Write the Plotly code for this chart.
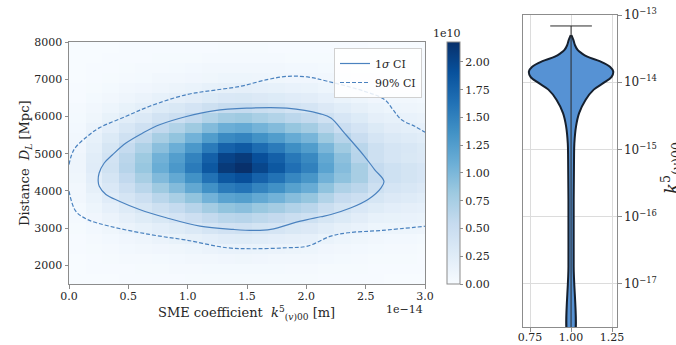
import plotly.graph_objects as go

# ---------------- data ----------------
# 2D histogram bin centres (x in units of 1e-14 m, y in Mpc)
x_centers = [0.07, 0.21, 0.35, 0.49, 0.63, 0.77, 0.91, 1.05, 1.19, 1.33, 1.47,
             1.61, 1.75, 1.89, 2.03, 2.17, 2.31, 2.45, 2.59, 2.73, 2.87, 3.01]
y_centers = [1635, 1905, 2175, 2445, 2715, 2985, 3255, 3525, 3795, 4065, 4335, 4605,
             4875, 5145, 5415, 5685, 5955, 6225, 6495, 6765, 7035, 7305, 7575, 7845]
# density, units of 1e9 (rows bottom -> top)
density_1e9 = [
    [0.0, 0.0, 0.0, 0.1, 0.1, 0.1, 0.1, 0.2, 0.2, 0.2, 0.2, 0.2, 0.2, 0.2, 0.2, 0.1, 0.1, 0.1, 0.1, 0.0, 0.0, 0.0],
    [0.0, 0.1, 0.1, 0.1, 0.2, 0.2, 0.3, 0.3, 0.4, 0.4, 0.4, 0.4, 0.4, 0.3, 0.3, 0.2, 0.2, 0.2, 0.1, 0.1, 0.1, 0.1],
    [0.0, 0.1, 0.2, 0.3, 0.3, 0.4, 0.5, 0.6, 0.7, 0.8, 0.9, 0.8, 0.7, 0.7, 0.6, 0.5, 0.4, 0.3, 0.2, 0.2, 0.2, 0.1],
    [0.1, 0.2, 0.3, 0.5, 0.6, 0.8, 0.9, 1.1, 1.3, 1.5, 1.5, 1.4, 1.3, 1.2, 1.1, 0.8, 0.7, 0.5, 0.4, 0.3, 0.3, 0.2],
    [0.1, 0.3, 0.5, 0.8, 1.0, 1.3, 1.6, 1.9, 2.2, 2.5, 2.6, 2.4, 2.2, 2.0, 1.8, 1.4, 1.1, 0.9, 0.7, 0.5, 0.5, 0.4],
    [0.2, 0.5, 0.9, 1.3, 1.7, 2.2, 2.6, 3.1, 3.7, 4.2, 4.4, 4.0, 3.7, 3.3, 3.0, 2.4, 1.9, 1.5, 1.1, 1.1, 1.1, 1.0],
    [0.3, 0.8, 1.3, 2.0, 2.6, 3.3, 3.9, 4.7, 5.6, 6.3, 6.5, 6.0, 5.6, 5.0, 4.5, 3.6, 2.9, 2.3, 1.7, 1.6, 1.5, 1.4],
    [0.4, 1.1, 1.8, 2.7, 3.6, 4.6, 5.5, 6.5, 7.8, 8.8, 9.2, 8.4, 7.8, 6.9, 6.3, 5.0, 4.0, 3.2, 2.6, 2.2, 2.0, 1.8],
    [0.6, 1.4, 2.5, 3.7, 4.8, 6.3, 7.4, 8.8, 10.5, 12.0, 12.4, 11.4, 10.5, 9.4, 8.6, 6.8, 5.4, 4.8, 3.6, 3.0, 2.7, 2.4],
    [0.7, 1.9, 3.2, 4.8, 6.3, 8.1, 9.6, 11.5, 13.7, 15.5, 16.1, 14.8, 13.7, 12.2, 11.1, 8.9, 7.0, 6.2, 4.6, 3.8, 3.4, 3.0],
    [0.9, 2.2, 3.8, 5.7, 7.5, 9.7, 11.4, 13.6, 16.3, 18.5, 19.2, 17.6, 16.3, 14.5, 13.2, 10.6, 9.0, 7.5, 5.5, 4.5, 4.0, 3.5],
    [1.0, 2.5, 4.3, 6.5, 8.5, 11.0, 13.0, 15.5, 18.5, 21.0, 21.8, 20.0, 18.5, 16.5, 15.0, 12.0, 9.5, 7.5, 5.5, 4.5, 4.0, 3.5],
    [1.0, 2.4, 4.1, 6.2, 8.2, 10.6, 12.5, 14.9, 17.8, 20.2, 20.9, 19.2, 17.8, 15.8, 14.4, 11.5, 9.1, 6.5, 4.6, 3.8, 3.3, 3.0],
    [0.8, 2.1, 3.6, 5.5, 7.1, 9.2, 10.9, 13.0, 15.5, 17.6, 18.3, 16.8, 15.5, 13.9, 12.6, 10.1, 8.0, 6.3, 4.6, 3.8, 3.4, 2.9],
    [0.7, 1.7, 2.9, 4.4, 5.8, 7.5, 8.8, 10.5, 12.6, 14.3, 14.8, 13.6, 12.6, 11.2, 10.2, 8.2, 6.5, 5.1, 3.7, 3.1, 2.7, 2.4],
    [0.5, 1.3, 2.2, 3.4, 4.4, 5.7, 6.8, 8.1, 9.6, 10.9, 11.3, 10.4, 9.6, 8.6, 7.8, 6.2, 4.9, 3.9, 2.9, 2.3, 2.1, 1.8],
    [0.4, 0.9, 1.6, 2.4, 3.1, 4.1, 4.8, 5.7, 6.8, 7.8, 8.1, 7.4, 6.8, 6.1, 5.6, 4.4, 3.5, 2.8, 2.0, 1.7, 1.5, 1.3],
    [0.3, 0.6, 1.1, 1.6, 2.1, 2.8, 3.3, 3.9, 4.6, 5.3, 5.5, 5.0, 4.6, 4.1, 3.8, 3.0, 2.4, 1.9, 1.4, 1.1, 1.0, 0.9],
    [0.15, 0.4, 0.6, 1.0, 1.3, 1.7, 2.0, 2.3, 2.8, 3.2, 3.3, 3.0, 2.8, 2.5, 2.3, 1.8, 1.4, 1.1, 0.8, 0.7, 0.6, 0.5],
    [0.1, 0.2, 0.4, 0.6, 0.8, 1.0, 1.2, 1.4, 1.7, 1.9, 2.0, 1.8, 1.7, 1.5, 1.4, 1.1, 0.9, 0.7, 0.5, 0.4, 0.4, 0.3],
    [0.05, 0.1, 0.2, 0.3, 0.4, 0.6, 0.7, 0.8, 0.9, 1.1, 1.1, 1.0, 0.9, 0.8, 0.8, 0.6, 0.5, 0.4, 0.3, 0.2, 0.2, 0.2],
    [0.0, 0.1, 0.1, 0.2, 0.3, 0.3, 0.4, 0.5, 0.6, 0.6, 0.7, 0.6, 0.6, 0.5, 0.5, 0.4, 0.3, 0.2, 0.2, 0.1, 0.1, 0.1],
    [0.0, 0.0, 0.1, 0.1, 0.1, 0.2, 0.2, 0.2, 0.3, 0.3, 0.3, 0.3, 0.3, 0.2, 0.2, 0.2, 0.1, 0.1, 0.1, 0.1, 0.1, 0.1],
    [0.0, 0.0, 0.0, 0.1, 0.1, 0.1, 0.1, 0.1, 0.1, 0.2, 0.2, 0.2, 0.1, 0.1, 0.1, 0.1, 0.1, 0.1, 0.0, 0.0, 0.0, 0.0],
]
density_max_1e9 = 21.8

# contour paths (x in 1e-14 m, y in Mpc)
ci1_x = [0.246, 0.254, 0.297, 0.367, 0.48, 0.621, 0.763, 0.989, 1.215, 1.497, 1.836, 2.119,
         2.207, 2.32, 2.49, 2.575, 2.654, 2.63, 2.52, 2.377, 2.207, 2.122, 1.95, 1.70, 1.556,
         1.386, 1.104, 0.82, 0.594, 0.424, 0.311, 0.255, 0.246]
ci1_y = [4261, 4482, 4750, 4973, 5286, 5554, 5777, 6000, 6152, 6223, 6223, 6071,
         5961, 5559, 4931, 4575, 4261, 4084, 3770, 3547, 3367, 3306, 3188, 2965, 2938,
         2965, 3054, 3279, 3502, 3724, 3904, 4127, 4261]
ci90_top_x = [0.0, 0.042, 0.155, 0.255, 0.481, 0.679, 0.99, 1.217, 1.443, 1.669, 1.84,
              2.01, 2.18, 2.49, 2.66, 2.73, 2.80, 2.914, 3.01]
ci90_top_y = [4709, 5110, 5468, 5693, 6004, 6273, 6586, 6702, 6809, 6989, 7077,
              7061, 6943, 6675, 6452, 6184, 5916, 5736, 5559]
ci90_bot_x = [0.0, 0.057, 0.155, 0.34, 0.679, 0.99, 1.33, 1.556, 1.84, 2.01, 2.207,
              2.35, 2.63, 3.01]
ci90_bot_y = [3993, 3456, 3233, 3054, 2831, 2678, 2474, 2447, 2474, 2517, 2786,
              2876, 2938, 3054]

# violin profile: log10(k) vs half-width
violin_logk = [-13.30, -13.37, -13.45, -13.52, -13.57, -13.62, -13.69, -13.77, -13.84,
               -13.92, -14.01, -14.11, -14.26, -14.46, -14.66, -14.91, -15.15, -15.75,
               -16.74, -17.80]
violin_halfwidth = [0.002, 0.014, 0.024, 0.04, 0.065, 0.099, 0.178, 0.237, 0.257,
                    0.247, 0.198, 0.138, 0.089, 0.049, 0.030, 0.020, 0.018, 0.016,
                    0.016, 0.016]
violin_position = 1.0
violin_max_logk = -13.163
violin_cap_halfwidth = 0.127

x_ticks_heat = [0.0, 0.5, 1.0, 1.5, 2.0, 2.5, 3.0]
y_ticks_heat = [2000, 3000, 4000, 5000, 6000, 7000, 8000]
cbar_ticks = [0.0, 0.25, 0.5, 0.75, 1.0, 1.25, 1.5, 1.75, 2.0]
violin_xticks = [0.75, 1.00, 1.25]
violin_yticks_exp = [-17, -16, -15, -14, -13]

# ---------------- figure ----------------
W, H = 676, 345
FONT = "DejaVu Serif"
TXT = "#262626"
SPINE = "#8c8c8c"
LINE = "#4a82bf"

def px(xp):
    return xp / W

def py(yp):
    return (H - yp) / H

blues = [[0.0, "#f7fbff"], [0.125, "#deebf7"], [0.25, "#c6dbef"], [0.375, "#9ecae1"],
         [0.5, "#6baed6"], [0.625, "#4292c6"], [0.75, "#2171b5"], [0.875, "#08519c"],
         [1.0, "#08306b"]]

fig = go.Figure()

fig.add_trace(go.Heatmap(
    x=x_centers, y=y_centers, z=density_1e9, zmin=0, zmax=density_max_1e9,
    colorscale=blues, showscale=True, hoverinfo="skip",
    colorbar=dict(
        x=px(447), xanchor="left", xpad=0, ypad=0,
        y=py(163), yanchor="middle", len=242 / H, lenmode="fraction",
        thickness=13, outlinecolor=SPINE, outlinewidth=1,
        tickvals=[v * 10 for v in cbar_ticks],
        ticktext=["%.2f" % v for v in cbar_ticks],
        ticks="outside", ticklen=3, tickcolor=SPINE,
        tickfont=dict(family=FONT, size=11, color=TXT),
    ),
    xaxis="x", yaxis="y",
))

fig.add_trace(go.Scatter(x=ci1_x, y=ci1_y, mode="lines", name="1<i>σ</i> CI",
                         line=dict(color=LINE, width=1.2), line_shape="spline",
                         xaxis="x", yaxis="y", hoverinfo="skip"))
fig.add_trace(go.Scatter(x=ci90_top_x, y=ci90_top_y, mode="lines", name="90% CI",
                         line=dict(color=LINE, width=1.2, dash="4px,2px"),
                         line_shape="spline", legendgroup="90",
                         xaxis="x", yaxis="y", hoverinfo="skip"))
fig.add_trace(go.Scatter(x=ci90_bot_x, y=ci90_bot_y, mode="lines", name="90% CI",
                         line=dict(color=LINE, width=1.2, dash="4px,2px"),
                         line_shape="spline", legendgroup="90", showlegend=False,
                         xaxis="x", yaxis="y", hoverinfo="skip"))

# violin body
vx = [violin_position + h for h in violin_halfwidth] + \
     [violin_position - h for h in violin_halfwidth[::-1]]
vy = [10 ** k for k in violin_logk] + [10 ** k for k in violin_logk[::-1]]
fig.add_trace(go.Scatter(x=vx, y=vy, mode="lines", fill="toself",
                         fillcolor="#5692d4", line=dict(color="#16202e", width=2),
                         line_shape="spline", showlegend=False,
                         xaxis="x2", yaxis="y2", hoverinfo="skip"))
# centre line and cap
fig.add_trace(go.Scatter(x=[violin_position, violin_position],
                         y=[10 ** violin_max_logk, 10 ** violin_logk[-1]],
                         mode="lines", line=dict(color="#2b2b2b", width=1),
                         showlegend=False, xaxis="x2", yaxis="y2", hoverinfo="skip"))
fig.add_trace(go.Scatter(x=[violin_position - violin_cap_halfwidth,
                            violin_position + violin_cap_halfwidth],
                         y=[10 ** violin_max_logk] * 2,
                         mode="lines", line=dict(color="#2b2b2b", width=1),
                         showlegend=False, xaxis="x2", yaxis="y2", hoverinfo="skip"))

axis_common = dict(showline=True, linecolor=SPINE, linewidth=1, mirror=True,
                   ticks="outside", ticklen=3.5, tickcolor=SPINE, automargin=False,
                   tickfont=dict(family=FONT, size=11, color=TXT), zeroline=False)

def note(text, xp, yp, size=11, angle=0, xanchor="center"):
    return dict(text=text, x=px(xp), y=py(yp), xref="paper", yref="paper",
                xanchor=xanchor, yanchor="middle", showarrow=False, textangle=angle,
                font=dict(family=FONT, size=size, color=TXT))

fig.update_layout(
    width=W, height=H, autosize=False,
    margin=dict(l=0, r=0, t=0, b=0, autoexpand=False),
    paper_bgcolor="white", plot_bgcolor="white",
    font=dict(family=FONT, color=TXT),
    xaxis=dict(domain=[px(69), px(425)], range=[0, 3.0], anchor="y",
               tickvals=x_ticks_heat, ticktext=["%.1f" % v for v in x_ticks_heat],
               showgrid=False, ticklabelstandoff=-2, **axis_common),
    yaxis=dict(domain=[py(284), py(42)], range=[1500, 8000], anchor="x",
               tickvals=y_ticks_heat, ticktext=[str(v) for v in y_ticks_heat],
               showgrid=False, **axis_common),
    xaxis2=dict(domain=[px(523), px(617)], range=[0.707, 1.28], anchor="y2",
                tickvals=violin_xticks, ticktext=["%.2f" % v for v in violin_xticks],
                showgrid=True, gridcolor="#dcdcdc", gridwidth=1,
                ticklabelstandoff=-4, **axis_common),
    yaxis2=dict(domain=[py(327), py(15)], type="log", range=[-17.64, -13.0],
                anchor="x2", side="right",
                tickvals=[10 ** e for e in violin_yticks_exp],
                ticktext=["10<sup>−%d</sup>" % (-e) for e in violin_yticks_exp],
                showgrid=True, gridcolor="#dcdcdc", gridwidth=1,
                **{**axis_common, "tickfont": dict(family=FONT, size=12, color=TXT)}),
    shapes=[dict(type="rect", xref="x domain", yref="y domain", x0=0, x1=1, y0=0, y1=1,
                 fillcolor="#f7fbff", line=dict(width=0), layer="below")],
    legend=dict(x=px(334), y=py(48), xanchor="left", yanchor="top",
                bgcolor="rgba(255,255,255,0.85)", bordercolor="#d0d0d0", borderwidth=1,
                font=dict(family=FONT, size=11, color=TXT),
                itemwidth=30, tracegroupgap=0),
    annotations=[
        note("SME coefficient  <i>k</i><sup>5</sup><sub>(<i>v</i>)00</sub> [m]", 247, 313, 13),
        note("Distance  <i>D<sub>L</sub></i> [Mpc]", 25, 163, 13, -90),
        note("1e−14", 425, 309, 11, 0, "right"),
        note("1e10", 447, 34, 11),
        note("<i>k</i><sup>5</sup><sub>(<i>v</i>)00</sub>", 671, 168, 18, -90),
    ],
)

fig.write_html("out.html", config={"displayModeBar": False},
               post_script="document.body.style.margin='0';"
                           "document.body.style.overflow='hidden';")
